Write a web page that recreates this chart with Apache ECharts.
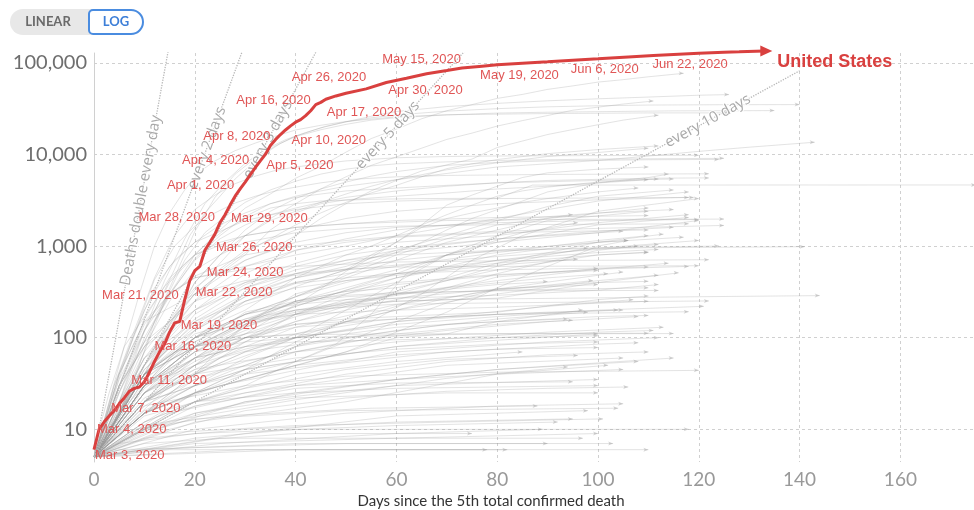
<!DOCTYPE html>
<html><head><meta charset="utf-8">
<script src="https://cdn.jsdelivr.net/npm/echarts@6/dist/echarts.min.js"></script>
<style>html,body{margin:0;padding:0;background:#fff}#c{width:974px;height:510px}</style>
</head><body><div id="c"></div>
<script>
// ---------- DATA ----------
const xTicks = [0, 20, 40, 60, 80, 100, 120, 140, 160];
const yTicks = [10, 100, 1000, 10000, 100000];

// United States: days since 5th death, cumulative deaths
const usDays = [0,1,2,3,4,5,6,7,8,9,10,11,12,13,14,15,16,17,18,19,20,21,22,23,24,25,26,27,28,29,30,31,32,33,34,35,36,37,38,39,40,41,42,43,44,45,46,48,50,54,58,62,66,70,73,77,80,85,90,95,100,106,111,115,120,125,128,133];
const usDeaths = [6,10,12,14,16,19,22,26,28,29,33,42,55,70,85,115,145,150,260,420,540,600,900,1100,1350,1800,2200,2800,3500,4200,5000,6000,7200,8500,10000,12500,14500,16500,18500,20500,22500,24000,26500,30000,35000,37000,40000,43500,46500,52000,61000,68000,76000,82500,88000,92000,95000,99000,102500,107000,110600,116000,120000,123000,127000,130500,132000,135000];
const usLabelDays = [0,1,4,8,13,16,18,19,21,23,25,26,29,32,33,36,38,44,45,54,58,73,77,95,111];
const usLabelTexts = ['Mar 3, 2020','Mar 4, 2020','Mar 7, 2020','Mar 11, 2020','Mar 16, 2020','Mar 19, 2020','Mar 21, 2020','Mar 22, 2020','Mar 24, 2020','Mar 26, 2020','Mar 28, 2020','Mar 29, 2020','Apr 1, 2020','Apr 4, 2020','Apr 5, 2020','Apr 8, 2020','Apr 10, 2020','Apr 16, 2020','Apr 17, 2020','Apr 26, 2020','Apr 30, 2020','May 15, 2020','May 19, 2020','Jun 6, 2020','Jun 22, 2020'];
const usName = 'United States';

// doubling guide lines [day, deaths]
const guideDaily = [[0,5],[9.3,3150],[17,655360]];
const guide2 = [[0,5],[22.4,11760],[34,655360]];
const guide3 = [[0,5],[34.5,14480],[51,655360]];
const guide5 = [[0,5],[58.3,16200],[85,655360]];
const guide10 = [[0,5],[121.8,23200],[140,81920]];
const guideTexts = ['Deaths double every day','every 2 days','every 3 days','every 5 days','every 10 days'];

// other countries (flat lists: day, deaths, day, deaths, ...)
const china = [0,6, 3,25, 6,80, 10,170, 14,360, 18,640, 22,1020, 26,1520, 30,2000, 35,2600, 40,2900, 45,3100, 55,3240, 65,3300, 80,3330, 87,4630, 100,4635, 130,4640, 175,4645];
const italy = [0,5, 4,12, 8,35, 12,150, 16,460, 20,1440, 24,3400, 28,6100, 32,9100, 36,12400, 40,15900, 45,19500, 50,22700, 55,25100, 60,27000, 70,29700, 80,31600, 90,33100, 100,34000, 110,34600, 125,34900, 140,35000];
const iran = [0,5, 4,20, 8,55, 12,150, 16,350, 20,730, 25,1300, 30,2100, 35,2900, 40,3500, 45,4000, 50,4500, 60,5300, 70,6200, 80,7300, 90,7900, 100,8600, 110,9600, 120,10800, 130,12000, 143,13600];
const korea = [0,5, 4,12, 8,30, 12,50, 16,70, 20,80, 25,100, 30,140, 40,180, 50,220, 60,250, 70,260, 80,265, 100,272, 120,280, 144,288];
const japan = [0,5, 10,15, 20,25, 30,45, 40,55, 48,85, 55,180, 62,500, 70,800, 80,880, 90,920, 110,960, 141,985];
const spain = [0,5, 3,20, 6,80, 9,300, 12,1000, 15,2300, 18,4100, 21,6500, 24,8500, 28,11000, 32,13300, 36,15800, 40,18500, 45,20800, 50,22900, 60,25800, 70,27100, 90,27950, 110,28400, 126,28420];
const uk = [0,5, 5,20, 10,120, 14,420, 18,1200, 22,2900, 26,5000, 30,8000, 34,11300, 38,14500, 42,17300, 46,20300, 50,22700, 55,26100, 60,29400, 70,33300, 80,36100, 90,38500, 100,40500, 110,42300, 120,44300, 126,45000];
const france = [0,5, 5,30, 9,90, 13,250, 16,560, 19,1300, 22,2300, 25,3500, 28,5400, 31,7600, 34,10300, 37,13200, 40,15700, 45,18600, 50,21300, 55,23700, 60,25200, 70,27000, 80,28300, 90,28900, 100,29300, 115,29900, 135,30100];
const brazil = [0,5, 5,25, 10,90, 15,300, 20,800, 25,1500, 30,2600, 35,3700, 40,5500, 45,7400, 50,10600, 55,14900, 60,18900, 65,24500, 70,30000, 75,35000, 80,40900, 85,45200, 90,51300, 95,56000, 100,61600, 105,65500, 110,70400, 117,76800];
const mexico = [0,5, 5,20, 10,50, 15,140, 20,330, 25,650, 30,1300, 35,2000, 40,2900, 45,4200, 50,5700, 55,7600, 60,9400, 65,11700, 70,14600, 75,17100, 80,20400, 85,23400, 90,26600, 95,30400, 100,32800, 105,35500, 111,38300];
const india = [0,5, 5,15, 10,50, 15,150, 20,300, 25,500, 30,700, 35,900, 40,1300, 45,2000, 50,2900, 55,4000, 60,5200, 65,6600, 70,7700, 75,8900, 80,11900, 85,14000, 90,16500, 95,18700, 100,21100, 105,23700, 112,26800];
const peru = [0,5, 5,15, 10,50, 15,120, 20,250, 25,530, 30,850, 35,1200, 40,1700, 45,2300, 50,3000, 55,3800, 60,4600, 65,5700, 70,7000, 75,7900, 80,8800, 90,10200, 100,11300, 112,12400];
const russia = [0,5, 5,15, 10,40, 15,140, 20,400, 25,800, 30,1300, 35,1900, 40,2400, 45,3000, 50,3700, 55,4500, 60,5300, 70,6800, 80,8100, 90,9500, 100,10500, 110,11700];
const belgium = [0,5, 4,30, 8,120, 12,450, 16,1300, 20,2500, 24,3600, 28,4800, 32,5800, 36,6700, 40,7300, 45,7900, 50,8500, 60,9200, 70,9500, 80,9620, 100,9720, 120,9790];
const germany = [0,5, 5,15, 10,70, 14,250, 18,700, 22,1400, 26,2100, 30,3000, 35,4100, 40,5100, 45,6100, 50,6900, 55,7500, 60,7900, 70,8300, 80,8600, 100,8900, 125,9070];
const canada = [0,5, 5,15, 10,40, 15,120, 20,400, 25,800, 30,1500, 35,2400, 40,3300, 45,4200, 50,5000, 55,5800, 60,6500, 70,7600, 80,8200, 90,8500, 110,8750, 124,8830];
const netherlands = [0,5, 4,25, 8,110, 12,430, 16,1000, 20,1650, 24,2300, 28,2950, 32,3500, 36,4000, 40,4400, 45,4900, 50,5300, 60,5700, 70,5900, 90,6050, 122,6150];
const chile = [0,5, 5,15, 10,40, 15,80, 20,140, 25,200, 30,280, 35,340, 40,400, 45,450, 50,550, 55,800, 60,1100, 65,1700, 70,2800, 75,3600, 80,4500, 85,5600, 90,6300, 100,6900, 110,7300];
const sweden = [0,5, 5,20, 10,100, 15,300, 20,700, 25,1200, 30,1700, 35,2200, 40,2600, 45,3000, 50,3400, 60,4000, 70,4500, 80,4900, 90,5200, 110,5500, 122,5550];
const turkey = [0,5, 4,30, 8,110, 12,350, 16,700, 20,1100, 25,1700, 30,2300, 35,2900, 40,3400, 45,3700, 50,4000, 60,4300, 70,4600, 80,4900, 100,5200, 115,5400];
const ecuador = [0,5, 5,30, 10,80, 15,150, 20,300, 25,500, 30,800, 35,1500, 40,2300, 45,2900, 50,3200, 60,3500, 70,3800, 80,4200, 90,4500, 110,5300];
const pakistan = [0,5, 5,15, 10,30, 15,60, 20,100, 25,150, 30,200, 35,300, 40,450, 45,600, 50,800, 55,1000, 60,1300, 65,1700, 70,2200, 75,2800, 80,3500, 85,4000, 90,4400, 100,5000, 112,5400];
const colombia = [0,5, 5,15, 10,40, 15,80, 20,120, 25,170, 30,230, 35,280, 40,360, 45,450, 50,550, 55,680, 60,850, 65,1100, 70,1500, 75,2000, 80,2500, 85,3100, 90,3900, 100,4900, 110,5600, 114,6100];
const southAfrica = [0,5, 10,20, 15,40, 20,60, 25,90, 30,110, 35,160, 40,230, 45,340, 50,530, 55,750, 60,1100, 65,1600, 70,2000, 75,2300, 80,2600, 85,3000, 90,3300, 100,3900, 108,4300];
const otherCountries = [
 [0,5, 5,30, 10,140, 15,300, 20,470, 30,800, 40,1000, 50,1150, 60,1280, 80,1450, 100,1560, 125,1680],
 [0,5, 5,25, 10,120, 15,400, 20,800, 25,1100, 30,1300, 40,1600, 50,1750, 70,1900, 90,1950, 125,1970],
 [0,5, 5,20, 10,80, 15,250, 20,550, 25,800, 30,1100, 40,1400, 50,1550, 60,1650, 80,1710, 118,1750],
 [0,5, 10,50, 20,200, 30,400, 40,650, 50,900, 60,1100, 70,1200, 80,1300, 100,1800, 118,2200],
 [0,5, 10,40, 20,180, 30,380, 40,600, 50,800, 60,950, 80,1200, 100,1450, 115,1600],
 [0,5, 5,40, 10,150, 15,300, 20,450, 30,600, 40,800, 50,1000, 60,1300, 70,1600, 80,2000, 90,2500, 100,3100, 118,3900],
 [0,5, 5,30, 10,80, 20,200, 30,350, 40,500, 50,650, 60,850, 80,1100, 100,1400, 120,1900],
 [0,5, 10,40, 20,150, 30,300, 40,450, 50,600, 60,900, 70,1300, 80,1900, 90,2700, 100,3500, 115,4100],
 [0,5, 10,30, 20,80, 30,150, 40,220, 50,330, 60,500, 70,800, 80,1300, 90,1900, 110,2400],
 [0,5, 10,25, 20,90, 30,180, 40,280, 50,450, 60,700, 70,1100, 80,1500, 90,2000, 110,2600],
 [0,5, 10,35, 20,100, 30,180, 40,280, 50,400, 60,550, 70,800, 80,1100, 100,1700, 118,2050],
 [0,5, 10,25, 20,70, 30,150, 40,280, 50,480, 60,800, 70,1200, 80,1700, 95,2200],
 [0,5, 10,40, 20,80, 30,100, 40,110, 55,150, 65,300, 75,700, 85,1300, 100,2400, 120,3300],
 [0,5, 10,40, 20,120, 30,250, 40,400, 50,500, 60,600, 80,850, 100,1150, 110,1300],
 [0,5, 5,30, 10,90, 20,250, 30,400, 40,500, 50,560, 60,590, 80,600, 120,610],
 [0,5, 5,35, 10,120, 15,300, 20,450, 30,560, 40,600, 60,670, 80,690, 122,710],
 [0,5, 10,30, 20,100, 30,250, 40,390, 50,450, 60,500, 80,550, 110,590],
 [0,5, 10,40, 20,100, 30,180, 40,240, 50,280, 60,300, 80,330, 110,350],
 [0,5, 10,40, 20,100, 30,180, 40,230, 50,260, 60,270, 80,290, 100,330, 112,380],
 [0,5, 10,30, 20,80, 30,110, 40,140, 50,150, 60,160, 80,180, 118,192],
 [0,5, 10,30, 20,80, 30,190, 40,250, 50,290, 60,310, 80,325, 112,328],
 [0,5, 5,40, 10,150, 20,300, 30,420, 40,480, 50,550, 60,620, 80,770, 100,920, 112,1040],
 [0,5, 10,40, 20,100, 30,150, 40,180, 50,190, 60,200, 80,215, 110,250],
 [0,5, 10,30, 20,80, 30,150, 40,250, 50,350, 60,500, 80,650, 100,800, 110,850],
 [0,5, 10,40, 20,80, 30,140, 40,250, 50,320, 60,350, 70,450, 80,650, 100,1100, 113,1350],
 [0,5, 10,60, 20,150, 30,250, 40,350, 50,420, 60,500, 80,700, 100,850, 112,920],
 [0,5, 10,25, 20,55, 30,100, 40,150, 50,200, 60,260, 70,350, 80,500, 100,900, 108,1000],
 [0,5, 10,20, 20,30, 30,60, 40,100, 50,200, 60,400, 70,800, 85,1400, 96,1800],
 [0,5, 10,20, 20,50, 30,100, 40,180, 50,300, 60,450, 80,800, 100,1100, 106,1150],
 [0,5, 10,20, 20,40, 30,90, 40,180, 50,260, 60,320, 80,550, 100,800, 110,860],
 [0,5, 10,40, 20,100, 30,150, 40,200, 50,230, 60,250, 80,270, 100,400, 116,510],
 [0,5, 10,30, 20,80, 30,150, 40,250, 50,320, 60,400, 80,490, 100,540],
 [0,5, 10,15, 20,25, 30,35, 50,70, 70,190, 80,350, 90,600, 100,1000, 106,1150],
 [0,5, 10,15, 20,30, 30,45, 40,90, 50,150, 60,220, 70,330, 80,460, 100,570],
 [0,5, 10,20, 20,50, 30,140, 40,300, 50,420, 60,480, 80,620, 96,720],
 [0,5, 10,15, 20,40, 30,140, 40,190, 50,240, 60,270, 80,340, 100,380],
 [0,5, 10,30, 20,50, 30,100, 40,140, 50,160, 60,170, 80,190, 100,260, 110,285],
 [0,5, 10,30, 20,70, 30,90, 40,100, 60,106, 80,110, 115,111],
 [0,5, 10,40, 20,80, 30,100, 40,108, 60,110, 110,112],
 [0,5, 10,40, 20,110, 30,160, 40,200, 50,215, 60,232, 80,240, 122,252],
 [0,5, 10,10, 20,20, 30,30, 40,55, 50,90, 60,150, 70,240, 80,340, 100,480, 105,520],
 [0,5, 10,15, 20,25, 40,50, 50,70, 60,100, 70,110, 80,150, 97,200],
 [0,5, 10,20, 20,40, 40,100, 50,150, 60,200, 70,270, 80,340, 100,400, 110,412],
 [0,5, 10,25, 20,60, 30,80, 40,100, 50,120, 60,150, 80,180, 105,200],
 [0,5, 10,15, 20,35, 30,50, 40,80, 60,120, 80,160, 98,190],
 [0,5, 10,30, 20,60, 30,80, 40,90, 60,95, 80,100, 100,105],
 [0,5, 10,12, 20,20, 30,25, 40,30, 60,35, 80,40, 105,45],
 [0,5, 10,10, 20,15, 40,25, 60,35, 80,45, 108,55],
 [0,5, 15,15, 30,25, 50,40, 70,55, 90,65, 110,70],
 [0,5, 10,15, 30,40, 50,55, 60,70, 90,90, 112,100],
 [0,5, 20,20, 40,40, 60,55, 85,70],
 [0,5, 10,12, 20,20, 40,25, 60,28, 100,30],
 [0,5, 20,8, 40,10, 80,10, 118,10],
 [0,5, 5,6, 50,7, 103,7],
 [0,5, 30,9, 60,14, 98,16],
 [0,5, 10,20, 30,45, 60,80, 100,110],
 [0,5, 20,12, 50,20, 80,40, 102,50],
 [0,5, 40,6, 82,6],
 [0,5, 10,9, 30,20, 60,35, 80,45, 115,60],
 [0,5, 20,15, 40,22, 70,25, 100,25],
 [0,5, 20,7, 60,8, 100,9],
 [0,5, 10,6, 40,7, 90,7],
 [0,5, 30,6, 70,6, 110,6],
 [0,5, 10,8, 30,10, 60,12, 95,13],
 [0,5, 20,10, 50,15, 80,18, 105,19],
 [0,5, 10,10, 30,20, 60,30, 100,35],
 [0,5, 15,15, 40,30, 70,50, 105,60],
 [0,5, 5,7, 20,9, 60,11, 92,12],
 [0,5, 10,7, 40,9, 75,9],
 [0,5, 8,10, 25,14, 55,17, 88,18],
 [0,5, 10,15, 25,30, 45,50, 70,70, 100,85, 108,88],
 [0,5, 15,30, 30,70, 50,100, 70,140, 100,170, 110,175],
 [0,5, 10,18, 30,30, 50,38, 80,42, 120,44],
 [0,5, 20,18, 40,28, 60,32, 95,33],
 [0,5, 10,6, 25,8, 60,8, 97,8],
 [0,5, 12,9, 40,11, 70,12, 101,13],
 [0,5, 10,25, 20,45, 40,70, 60,90, 90,115, 113,130],
 [0,5, 10,20, 25,60, 40,100, 60,150, 90,220, 107,260],
 [0,5, 20,25, 40,50, 60,65, 80,75, 100,78],
 [0,5, 10,14, 30,28, 50,45, 70,58, 96,64],
 [0,5, 25,7, 60,9, 89,10],
 [0,5, 10,30, 20,60, 30,100, 40,130, 60,160, 90,190, 104,200],
 [0,5, 15,6, 45,6, 78,6],
 [0,5, 8,9, 20,13, 50,16, 104,17],
 [0,5, 10,11, 40,21, 70,36, 94,48],
 [0,5, 5,20, 10,60, 20,200, 30,500, 40,900, 50,1200, 60,1500, 80,1900, 100,2300, 115,2500],
 [0,5, 10,30, 20,120, 30,300, 40,500, 50,700, 60,900, 80,1200, 105,1450],
 [0,5, 10,50, 20,250, 30,600, 40,900, 50,1100, 60,1250, 80,1400, 110,1500],
 [0,5, 10,20, 20,60, 30,130, 40,220, 50,330, 60,450, 80,700, 100,950, 120,1150],
 [0,5, 10,25, 20,60, 30,110, 40,170, 50,230, 60,300, 80,420, 100,560, 114,650],
 [0,5, 10,35, 20,90, 30,160, 40,240, 60,380, 80,480, 100,560, 118,600],
 [0,5, 10,15, 20,40, 30,70, 40,110, 60,200, 80,300, 100,420, 112,480],
 [0,5, 10,20, 20,45, 30,80, 40,130, 60,230, 80,330, 99,420],
 [0,5, 10,25, 20,50, 30,75, 40,100, 60,140, 80,170, 100,200, 121,220],
 [0,5, 10,18, 20,35, 30,55, 50,90, 70,120, 90,150, 108,170],
 [0,5, 10,45, 20,160, 30,350, 40,550, 50,700, 60,800, 80,900, 100,960, 124,1000],
 [0,5, 10,30, 20,70, 30,120, 40,180, 50,240, 70,350, 90,450, 102,500],
 [0,5, 10,12, 20,25, 30,45, 40,70, 60,110, 80,140, 95,155],
 [0,5, 10,20, 20,50, 30,90, 40,150, 50,220, 60,300, 70,420, 80,600, 90,800, 98,950],
 [0,5, 5,15, 10,45, 20,130, 30,280, 40,450, 60,700, 80,900, 100,1100, 117,1250],
 [0,5, 10,16, 20,30, 40,55, 60,80, 80,100, 100,115, 111,120],
 [0,5, 10,22, 20,40, 40,60, 60,75, 80,85, 100,90],
 [0,5, 10,28, 20,70, 30,130, 40,200, 60,300, 80,380, 90,410],
 [0,5, 10,60, 20,300, 30,700, 40,1100, 50,1400, 60,1600, 80,1800, 100,1900, 120,1950],
 [0,5, 10,70, 20,350, 30,900, 40,1500, 50,2000, 60,2400, 80,2900, 100,3200, 118,3400],
 [0,5, 5,40, 10,200, 15,600, 20,1100, 30,1900, 40,2500, 50,2900, 60,3100, 80,3300, 100,3350, 119,3400],
 [0,5, 5,30, 10,160, 15,450, 20,800, 30,1300, 40,1600, 60,1900, 80,2050, 110,2150],
 [0,5, 10,15, 20,30, 30,50, 40,80, 50,110, 60,130, 80,150, 94,160],
 [0,5, 15,10, 30,16, 50,22, 70,26, 90,28, 106,29]
];
const namedCountries = [china, italy, iran, korea, japan, spain, uk, france, brazil, mexico, india, peru, russia, belgium, germany, canada, netherlands, chile, sweden, turkey, ecuador, pakistan, colombia, southAfrica];

// ---------- STYLE ----------
// [align, dx, dy] for each US date label
const usLabelOffsets = [['left',1,6],['left',-2,0],['left',-3,-2],['left',-3,-8],['left',-5,-5],['left',6,3],['right',-6,-4],['left',6,12],['left',7,6],['left',6,5],['right',-5,-5],['left',6,4],['right',-6,-4],['right',-6,-7],['left',6,5],['right',-5,-3],['left',6,10],['right',-5,-4],['left',6,10],['right',0,-11],['left',2,8],['right',-1,-8],['left',-2,9],['left',-2,9],['left',-1,9]];
const guideAngles = [79.6, 69.9, 61.3, 47.6, 28.7];
const RED = '#d9403f';

// ---------- BUILD ----------
function pairs(flat) {
  const out = [];
  for (let i = 0; i < flat.length; i += 2) out.push([flat[i], flat[i + 1]]);
  return out;
}
const series = [];
namedCountries.concat(otherCountries).forEach(function (flat) {
  const pts = pairs(flat);
  const data = pts.map(function (p, i) {
    if (i === pts.length - 1) {
      return { value: p, symbol: 'arrow', symbolSize: [3, 5], symbolRotate: -90 };
    }
    return p;
  });
  series.push({
    type: 'line', data: data, symbol: 'none', showSymbol: true, silent: true,
    lineStyle: { color: 'rgba(150,150,150,0.27)', width: 1 },
    itemStyle: { color: 'rgba(160,160,160,0.45)' },
    emphasis: { disabled: true }, z: 2
  });
});

[guideDaily, guide2, guide3, guide5, guide10].forEach(function (g, gi) {
  const data = g.map(function (p, i) {
    if (i === 1) {
      return {
        value: p, symbol: 'circle', symbolSize: 0,
        label: {
          show: true, position: 'inside', formatter: guideTexts[gi],
          rotate: guideAngles[gi], align: 'center', verticalAlign: 'middle',
          color: '#a9a9a9', fontSize: 15, fontFamily: 'Open Sans',
          textBorderColor: '#fff', textBorderWidth: 2
        }
      };
    }
    return p;
  });
  series.push({
    type: 'line', data: data, symbol: 'none', showSymbol: true, silent: true,
    lineStyle: { color: '#b8b8b8', width: 1.3, type: 'dotted' },
    emphasis: { disabled: true }, z: 2
  });
});

const usData = usDays.map(function (d, i) {
  const li = usLabelDays.indexOf(d);
  const isLast = i === usDays.length - 1;
  if (isLast) {
    return {
      value: [d, usDeaths[i]], symbol: 'triangle', symbolSize: [11, 12], symbolRotate: -90, symbolOffset: [2, 0],
      label: {
        show: true, position: 'inside', align: 'left', verticalAlign: 'middle', offset: [11, 11],
        formatter: usName, color: RED, fontSize: 18, fontWeight: 'bold', fontFamily: 'Liberation Sans'
      }
    };
  }
  if (li >= 0) {
    const o = usLabelOffsets[li];
    return {
      value: [d, usDeaths[i]], symbol: 'circle', symbolSize: 0,
      label: {
        show: true, position: 'inside', align: o[0], verticalAlign: 'middle', offset: [o[1], o[2]],
        formatter: usLabelTexts[li], color: '#e05656', fontSize: 13, fontFamily: 'Liberation Sans'
      }
    };
  }
  return [d, usDeaths[i]];
});
series.push({
  type: 'line', name: usName, data: usData, symbol: 'none', showSymbol: true, clip: false, silent: true,
  lineStyle: { color: RED, width: 3 }, itemStyle: { color: RED },
  emphasis: { disabled: true }, z: 5
});

const option = {
  animation: false,
  backgroundColor: '#fff',
  grid: { left: 94, top: 53, width: 882, height: 409, containLabel: false, outerBoundsMode: 'none' },
  xAxis: {
    type: 'value', min: 0, max: 175, interval: 20,
    axisLine: { show: false, onZero: false }, axisTick: { show: false },
    splitLine: { show: true, showMinLine: false, showMaxLine: false, lineStyle: { color: '#d0d0d0', type: [3, 3], width: 1 } },
    axisLabel: { color: '#999', fontSize: 19, fontFamily: 'Lato', margin: 8, showMaxLabel: false,
      formatter: function (v) { return xTicks.indexOf(v) >= 0 ? String(v) : ''; } },
    name: 'Days since the 5th total confirmed death', nameLocation: 'middle', nameGap: 30,
    nameTextStyle: { color: '#333', fontSize: 15, fontFamily: 'Lato', padding: [0, 88, 0, 0] }
  },
  yAxis: {
    type: 'log', logBase: 10, min: 4.4, max: 128000,
    axisLine: { show: true, lineStyle: { color: '#d0d0d0', width: 1 } }, axisTick: { show: false },
    splitLine: { show: true, showMinLine: false, showMaxLine: false, lineStyle: { color: '#d0d0d0', type: [3, 3], width: 1 } },
    axisLabel: { color: '#6e6e6e', fontSize: 20, fontFamily: 'Lato', margin: 7, showMinLabel: false, showMaxLabel: false,
      formatter: function (v) { const r = Math.round(v); return yTicks.indexOf(r) >= 0 ? r.toLocaleString('en-US') : ''; } }
  },
  graphic: [
    { type: 'rect', shape: { x: 10, y: 9, width: 92, height: 26, r: 13 }, style: { fill: '#e8e8e8' }, silent: true },
    { type: 'text', style: { x: 48, y: 22, text: 'LINEAR', font: 'bold 13px Lato', fill: '#6a6a6a', align: 'center', verticalAlign: 'middle' }, silent: true },
    { type: 'rect', shape: { x: 89, y: 10, width: 54, height: 24, r: [4, 12, 12, 4] }, style: { fill: '#fff', stroke: '#4a8ce0', lineWidth: 2 }, silent: true },
    { type: 'text', style: { x: 116, y: 22, text: 'LOG', font: 'bold 13px Lato', fill: '#3d7fd8', align: 'center', verticalAlign: 'middle' }, silent: true }
  ],
  series: series
};
const chart = echarts.init(document.getElementById('c'), null, { renderer: 'canvas' });
chart.setOption(option);
</script>
</body></html>
